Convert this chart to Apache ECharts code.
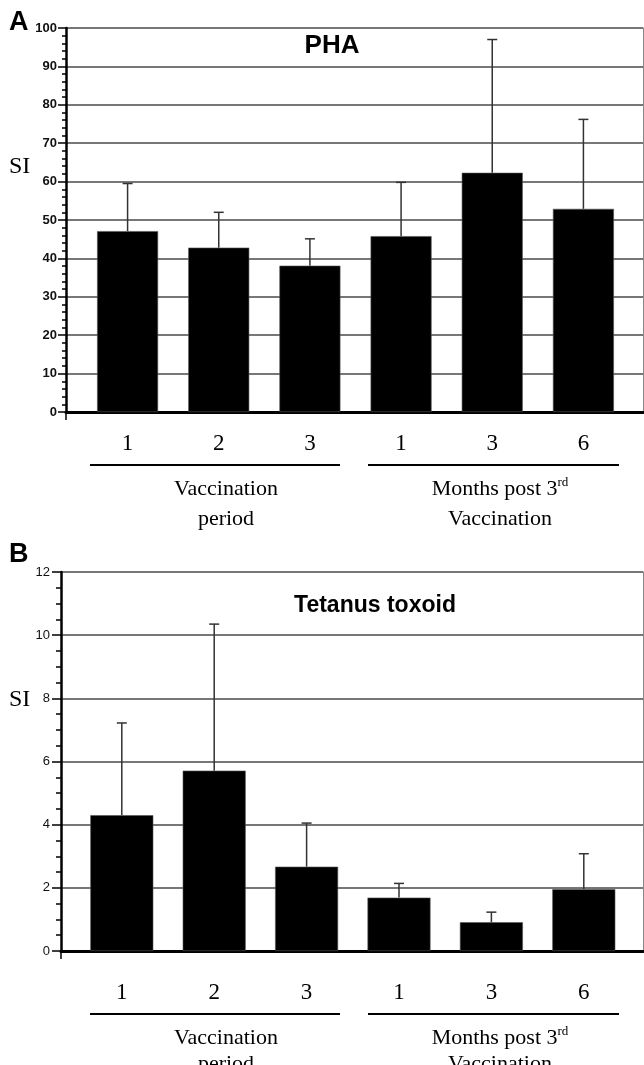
<!DOCTYPE html>
<html>
<head>
<meta charset="utf-8">
<script src="https://cdn.jsdelivr.net/npm/echarts@6/dist/echarts.min.js"></script>
<style>
html,body{margin:0;padding:0;background:#fff;}
#chart{width:644px;height:1065px;}
</style>
</head>
<body>
<div id="chart"></div>
<script>
// ---- data ----
const categories = ['1', '2', '3', '1', '3', '6'];
const phaMean  = [47.1, 42.8, 38.1, 45.8, 62.3, 52.9];
const phaUpper = [59.5, 52.0, 45.1, 59.8, 97.0, 76.2];
const ttMean   = [4.30, 5.71, 2.67, 1.69, 0.91, 1.96];
const ttUpper  = [7.22, 10.35, 4.05, 2.14, 1.23, 3.08];
const phaAxis = { min: 0, max: 100, interval: 10 };
const ttAxis  = { min: 0, max: 12, interval: 2 };
const panelTitles = ['PHA', 'Tetanus toxoid'];
const panelLetters = ['A', 'B'];
const yName = 'SI';
const groupLine1 = ['Vaccination', 'Months post 3'];
const groupSup = ['', 'rd'];
const groupLine2 = ['period', 'Vaccination'];

const SERIF = '"Liberation Serif", "Times New Roman", serif';
const SANS = '"Liberation Sans", Arial, sans-serif';

const chart = echarts.init(document.getElementById('chart'), null, { renderer: 'canvas' });

// panel geometry
const P = [
  { axisLeft: 66, top: 28, bottom: 412, barLeft: 82, barRight: 629, barW: 61,
    labelBold: true, labelSize: 13, labelMargin: 9, tickLen: 8, minorSplit: 5, minorLen: 4, catMargin: 20,
    axis: phaAxis, mean: phaMean, upper: phaUpper },
  { axisLeft: 61, top: 572, bottom: 951, barLeft: 75.6, barRight: 630, barW: 63,
    labelBold: false, labelSize: 13, labelMargin: 11, tickLen: 9, minorSplit: 4, minorLen: 5, catMargin: 30,
    axis: ttAxis, mean: ttMean, upper: ttUpper }
];
const W = 644, H = 1065, plotRight = 643;

const grid = [], xAxis = [], yAxis = [], series = [];
P.forEach((p, k) => {
  const gBg = grid.length;
  grid.push({ left: p.axisLeft, right: W - plotRight, top: p.top, bottom: H - p.bottom, containLabel: false });
  const gBar = grid.length;
  grid.push({ left: p.barLeft, right: W - p.barRight, top: p.top, bottom: H - p.bottom, containLabel: false });

  xAxis.push({
    gridIndex: gBg, type: 'category', data: ['', ''], boundaryGap: false, position: 'bottom',
    axisLine: { show: true, lineStyle: { color: '#000', width: 2 } },
    axisTick: { show: true, length: 8, interval: (i) => i === 0, lineStyle: { color: '#000', width: 1.5 } },
    axisLabel: { show: false }, splitLine: { show: false }
  });
  xAxis.push({
    gridIndex: gBg, type: 'category', data: ['', ''], boundaryGap: false, position: 'top',
    axisLine: { show: true, lineStyle: { color: '#000', width: 3 } },
    axisTick: { show: false }, axisLabel: { show: false }, splitLine: { show: false }
  });
  const xBar = xAxis.length;
  xAxis.push({
    gridIndex: gBar, type: 'category', data: categories, position: 'bottom',
    axisLine: { show: false }, axisTick: { show: false }, splitLine: { show: false },
    axisLabel: { show: true, interval: 0, margin: p.catMargin, color: '#000', fontFamily: SERIF, fontSize: 23 }
  });

  yAxis.push({
    gridIndex: gBg, type: 'value', position: 'left', min: p.axis.min, max: p.axis.max, interval: p.axis.interval,
    axisLine: { show: true, lineStyle: { color: '#000', width: 2.5 } },
    axisTick: { show: true, length: p.tickLen, lineStyle: { color: '#000', width: 1.5 } },
    minorTick: { show: true, splitNumber: p.minorSplit, length: p.minorLen, lineStyle: { color: '#000', width: 1.5 } },
    axisLabel: { show: true, margin: p.labelMargin, color: '#111', fontFamily: SANS,
      fontWeight: p.labelBold ? 'bold' : 'normal', fontSize: p.labelSize },
    splitLine: { show: true, lineStyle: { color: '#4a4a4a', width: 1.5 } }
  });
  yAxis.push({
    gridIndex: gBg, type: 'value', position: 'right', min: p.axis.min, max: p.axis.max, interval: p.axis.interval,
    axisLine: { show: true, lineStyle: { color: '#888', width: 1 } },
    axisTick: { show: false }, axisLabel: { show: false }, splitLine: { show: false }
  });
  const yBar = yAxis.length;
  yAxis.push({
    gridIndex: gBar, type: 'value', min: p.axis.min, max: p.axis.max, interval: p.axis.interval, show: false
  });

  series.push({
    type: 'bar', xAxisIndex: xBar, yAxisIndex: yBar, data: p.mean, barWidth: p.barW,
    itemStyle: { color: '#000', borderColor: '#555', borderWidth: 0.6 }, silent: true, z: 3
  });
  series.push({
    type: 'custom', xAxisIndex: xBar, yAxisIndex: yBar, silent: true, z: 2,
    data: p.mean.map((m, i) => [i, m, p.upper[i]]),
    renderItem: (params, api) => {
      const x = api.value(0);
      const base = api.coord([x, api.value(1)]);
      const top = api.coord([x, api.value(2)]);
      const st = { stroke: '#333', lineWidth: 1.5 };
      return { type: 'group', children: [
        { type: 'line', shape: { x1: base[0], y1: base[1], x2: top[0], y2: top[1] }, style: st },
        { type: 'line', shape: { x1: top[0] - 5, y1: top[1], x2: top[0] + 5, y2: top[1] }, style: st }
      ]};
    }
  });
});

// decorations
const graphic = [];
const lettersY = [23, 555];
const siY = [167, 700];
const titlePos = [[332, 46], [375, 606]];
const titleSize = [26, 23];
const bracketY = [465, 1014];
const line1Y = [489, 1038];
const line2Y = [519, 1064];
const groupX = [[90, 340], [368, 619]];
const groupCx = [226, 500];
for (let k = 0; k < 2; k++) {
  graphic.push({ type: 'text', x: 9, y: lettersY[k], style: { text: panelLetters[k], fontFamily: SANS, fontWeight: 'bold', fontSize: 27, fill: '#000', textVerticalAlign: 'middle' } });
  graphic.push({ type: 'text', x: 9, y: siY[k], style: { text: yName, fontFamily: SERIF, fontSize: 24, fill: '#000', textVerticalAlign: 'middle' } });
  graphic.push({ type: 'text', x: titlePos[k][0], y: titlePos[k][1], style: { text: panelTitles[k], fontFamily: SANS, fontWeight: 'bold', fontSize: titleSize[k], fill: '#000', textAlign: 'center', textVerticalAlign: 'middle' } });
  for (let g = 0; g < 2; g++) {
    graphic.push({ type: 'line', shape: { x1: groupX[g][0], y1: bracketY[k], x2: groupX[g][1], y2: bracketY[k] }, style: { stroke: '#000', lineWidth: 2 } });
    const txt = groupSup[g] ? '{a|' + groupLine1[g] + '}{s|' + groupSup[g] + '}' : '{a|' + groupLine1[g] + '}';
    graphic.push({ type: 'text', x: groupCx[g], y: line1Y[k], style: {
      text: txt, textAlign: 'center', textVerticalAlign: 'middle',
      rich: { a: { fontFamily: SERIF, fontSize: 22, fill: '#000', lineHeight: 26 },
              s: { fontFamily: SERIF, fontSize: 13, fill: '#000', lineHeight: 14, verticalAlign: 'top' } } } });
    graphic.push({ type: 'text', x: groupCx[g], y: line2Y[k], style: {
      text: groupLine2[g], fontFamily: SERIF, fontSize: 22, fill: '#000', textAlign: 'center', textVerticalAlign: 'middle' } });
  }
}

chart.setOption({ animation: false, backgroundColor: '#fff', grid, xAxis, yAxis, series, graphic });
</script>
</body>
</html>
